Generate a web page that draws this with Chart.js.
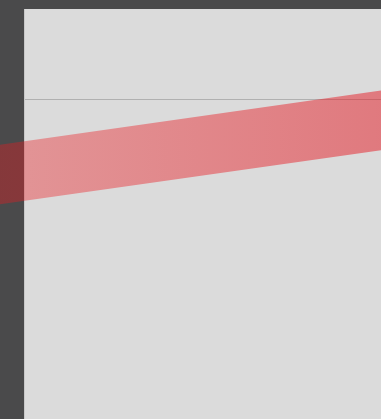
<!DOCTYPE html>
<html>
<head>
<meta charset="utf-8">
<script src="https://cdn.jsdelivr.net/npm/chart.js@4/dist/chart.umd.min.js"></script>
<style>
  html, body { margin: 0; padding: 0; background: #4a4a4b; }
  #wrap { width: 381px; height: 419px; }
</style>
</head>
<body>
<div id="wrap"><canvas id="c"></canvas></div>
<script>
// data (x in plot units, y in value units)
const xValues = [-64, 376];
const yValues = [23.88, 30.13];
const gridValues = [31.95];

const frame = {
  id: "frame",
  beforeDraw(chart) {
    const { ctx, chartArea: a } = chart;
    ctx.save();
    ctx.fillStyle = "#4a4a4b";
    ctx.fillRect(0, 0, chart.width, chart.height);
    ctx.fillStyle = "#dbdbdb";
    ctx.fillRect(a.left, a.top, a.right - a.left, a.bottom - a.top);
    ctx.restore();
  }
};

function bandColor(context) {
  const chart = context.chart;
  if (!chart.chartArea) return "rgba(232, 22, 30, 0.4)";
  const g = chart.ctx.createLinearGradient(0, 0, chart.width, 0);
  g.addColorStop(0, "rgba(238, 25, 30, 0.36)");
  g.addColorStop(1, "rgba(229, 20, 30, 0.49)");
  return g;
}

new Chart(document.getElementById("c"), {
  type: "line",
  data: {
    datasets: [{
      data: xValues.map((x, i) => ({ x: x, y: yValues[i] })),
      borderColor: bandColor,
      borderWidth: 59,
      borderCapStyle: "butt",
      pointRadius: 0,
      fill: false,
      tension: 0,
      clip: false
    }]
  },
  options: {
    responsive: true,
    maintainAspectRatio: false,
    animation: false,
    layout: { padding: { left: 24, top: 9, right: 0, bottom: 0 } },
    plugins: { legend: { display: false }, tooltip: { enabled: false } },
    scales: {
      x: { type: "linear", min: 0, max: 357, display: false },
      y: {
        min: 0,
        max: 41,
        afterBuildTicks: s => { s.ticks = gridValues.map(v => ({ value: v })); },
        ticks: { display: false },
        grid: { color: "#b0b0b0", drawTicks: false },
        border: { display: true, color: "#c8c8c8" }
      }
    }
  },
  plugins: [frame]
});
</script>
</body>
</html>
